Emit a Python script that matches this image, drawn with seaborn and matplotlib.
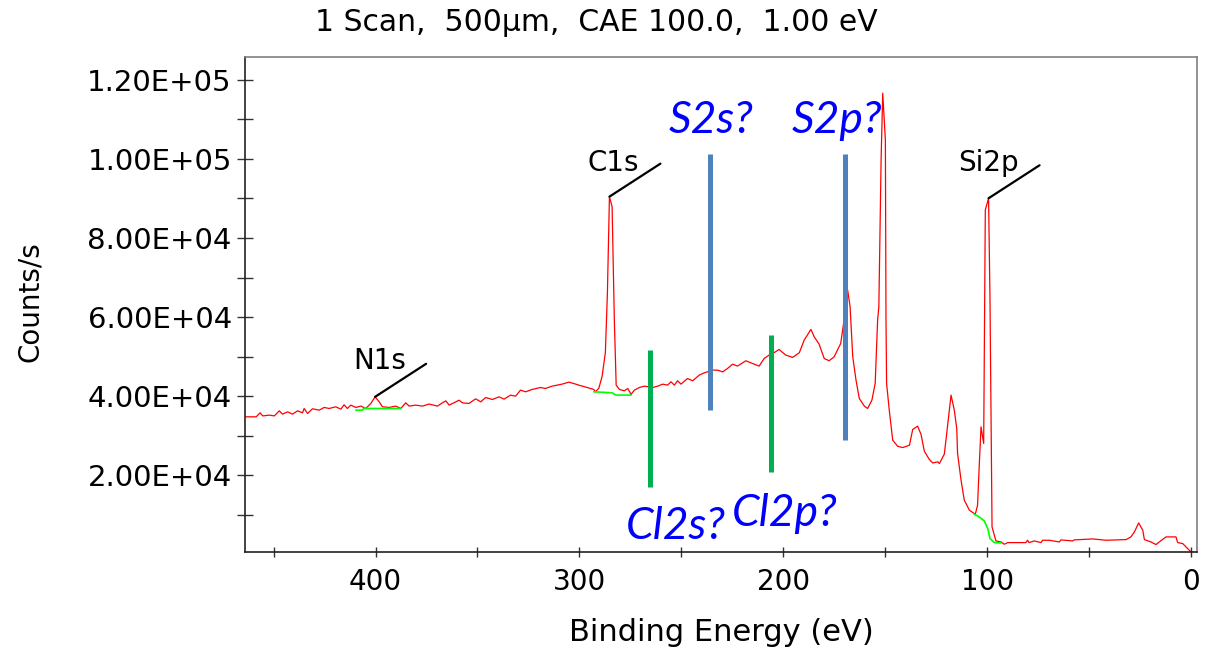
import matplotlib
matplotlib.use("Agg")
import matplotlib.pyplot as plt
from matplotlib.ticker import MultipleLocator, FuncFormatter
import pandas as pd
import seaborn as sns

# XPS survey spectrum: binding energy (eV) and intensity (counts/s)
energy = [
    464.2, 458.5, 456.6, 455.3, 452.0, 449.6, 447.2, 445.6, 443.1, 440.7,
    438.2, 435.8, 435.0, 433.3, 430.9, 427.6, 425.2, 422.7, 419.5, 417.0,
    415.4, 413.8, 412.1, 409.7, 407.2, 404.8, 402.3, 400.2, 398.2, 396.6,
    393.3, 390.1, 387.6, 385.2, 383.5, 380.3, 377.0, 373.7, 369.6, 367.2,
    365.5, 363.9, 359.0, 357.4, 354.2, 350.9, 348.4, 346.0, 342.7, 339.4,
    337.0, 333.8, 331.3, 328.9, 326.4, 323.2, 319.1, 316.7, 313.4, 308.5,
    305.2, 302.8, 300.3, 296.2, 293.0, 292.2, 290.5, 288.9, 287.3, 286.3,
    285.3, 284.0, 282.9, 282.0, 280.4, 278.0, 276.3, 274.7, 273.1, 270.6,
    268.2, 264.1, 261.6, 259.2, 256.8, 255.1, 253.5, 251.9, 250.2, 247.0,
    244.5, 241.3, 238.8, 234.7, 232.3, 229.8, 227.4, 224.9, 222.5, 218.4,
    215.2, 211.9, 209.4, 207.0, 204.6, 202.1, 200.8, 198.8, 195.5, 192.2,
    189.8, 186.5, 184.9, 182.5, 180.0, 177.6, 175.1, 171.9, 170.6, 168.5,
    167.3, 166.0, 164.4, 162.8, 160.3, 158.7, 156.6, 155.0, 153.8, 153.2,
    152.1, 151.3, 150.0, 149.7, 149.4, 148.1, 146.4, 144.0, 141.5, 138.2,
    136.6, 134.2, 132.5, 130.9, 128.4, 126.8, 124.3, 123.5, 121.1, 120.3,
    117.8, 116.2, 115.0, 114.6, 112.9, 111.3, 108.8, 105.9, 104.8, 104.0,
    103.1, 101.8, 101.0, 99.4, 98.7, 97.7, 95.8, 93.3, 91.7, 90.0,
    81.1, 80.3, 79.5, 77.0, 73.7, 72.9, 69.6, 64.7, 63.9, 58.2,
    57.4, 48.4, 41.8, 32.0, 29.6, 27.9, 25.8, 23.8, 23.0, 19.8,
    17.3, 15.7, 12.4, 7.5, 6.7, 4.2, 1.8, 0.1, -2.3,
]
counts = [
    34770, 34770, 35780, 35000, 35200, 35000, 36290, 35450, 36030, 35450,
    36290, 35780, 36880, 35620, 36800, 36460, 37140, 36880, 37310, 36710,
    37810, 36880, 37730, 37140, 37480, 36880, 38140, 39830, 38560, 37310,
    37140, 37480, 36880, 38310, 37480, 37730, 37480, 38000, 37480, 38310,
    38810, 37730, 38980, 38310, 38140, 39320, 38560, 39650, 39150, 39830,
    39240, 40250, 40000, 41520, 41100, 41690, 42190, 41940, 42530, 43040,
    43540, 43200, 42780, 42190, 41690, 41100, 42000, 45000, 51000, 66000,
    90470, 87940, 59250, 42790, 41690, 41350, 41940, 40440, 41520, 42190,
    42530, 42190, 42530, 43040, 42780, 43630, 42780, 43880, 43040, 44470,
    43880, 45310, 45900, 46580, 46580, 46150, 47000, 48100, 47600, 48950,
    48270, 47600, 49540, 50390, 50980, 51820, 51230, 50390, 49800, 50980,
    54180, 56880, 55020, 53160, 49540, 48950, 49960, 53330, 58000, 66840,
    62620, 49960, 44060, 39420, 37480, 36880, 38980, 43200, 59250, 62620,
    99760, 116650, 104800, 59250, 43200, 36460, 28860, 27330, 26990, 27580,
    31570, 32410, 30300, 26060, 23950, 23110, 23370, 22960, 25330, 28860,
    40260, 36460, 31820, 25500, 18740, 13670, 11140, 10130, 12400, 22110,
    32240, 28030, 87100, 90060, 64300, 6920, 3380, 3110, 2530, 2950,
    2950, 3540, 2950, 3370, 2950, 3540, 3540, 3110, 3630, 3370,
    3630, 3880, 3540, 3710, 4390, 5650, 7930, 6080, 3710, 3110,
    2450, 3110, 4390, 4390, 2950, 2700, 1430, 590, 420,
]

# Fitted backgrounds under the identified peaks
bg_n1s_energy = [409.7, 406.5, 405.8, 387.6]
bg_n1s_counts = [36460, 36460, 36880, 36880]
bg_c1s_energy = [293.0, 284.0, 283.6, 282.0, 274.7]
bg_c1s_counts = [41100, 40850, 40680, 40270, 40270]
bg_si2p_energy = [106.4, 104.0, 101.5, 99.8, 98.7, 96.6, 93.3]
bg_si2p_counts = [10130, 9450, 8440, 6500, 3970, 2950, 2870]

# Identified peaks
peak_names = ["N1s", "C1s", "Si2p"]
peak_energy = [400.2, 285.3, 99.4]
peak_counts = [39830, 90470, 90060]

# Candidate lines (S and Cl)
marker_names = ["S2s?", "S2p?", "Cl2s?", "Cl2p?"]
marker_energy = [236.2, 169.6, 265.3, 206.2]
marker_low = [36460, 28860, 17040, 20840]
marker_high = [101200, 101200, 51650, 55450]
marker_colors = ["#4F81BD", "#4F81BD", "#00B050", "#00B050"]

x_ticks = [400, 300, 200, 100, 0]
title = "1 Scan,  500\u00b5m,  CAE 100.0,  1.00 eV"

sns.set_style("ticks")
plt.rcParams["font.family"] = ["DejaVu Sans"]
plt.rcParams.update({
    "text.color": "black",
    "axes.labelcolor": "black",
    "xtick.color": "black",
    "ytick.color": "black",
})

fig = plt.figure(figsize=(12.14, 6.55), dpi=100)
ax = fig.add_axes([0.2018, 0.1573, 0.7842, 0.7557])

spec = pd.DataFrame({"energy": energy, "counts": counts})
sns.lineplot(data=spec, x="energy", y="counts", sort=False, estimator=None,
             color="#FF0000", lw=0.9, ax=ax)

for be, ct in [(bg_n1s_energy, bg_n1s_counts),
               (bg_c1s_energy, bg_c1s_counts),
               (bg_si2p_energy, bg_si2p_counts)]:
    bg = pd.DataFrame({"energy": be, "counts": ct})
    sns.lineplot(data=bg, x="energy", y="counts", sort=False, estimator=None,
                 color="#00FF00", lw=1.2, ax=ax)

ax.vlines(marker_energy, marker_low, marker_high, colors=marker_colors, lw=3.6)

# Candidate labels: S lines above the bar, Cl lines below
label_offsets = [(2, 21), (-8, 21), (26, -52), (14, -54)]
for name, e, lo, hi, off in zip(marker_names, marker_energy, marker_low,
                                marker_high, label_offsets):
    y = hi if off[1] > 0 else lo
    ax.annotate(name, xy=(e, y), xytext=off, textcoords="offset pixels",
                ha="center", va="baseline", color="#0000FF",
                family=["Lato", "DejaVu Sans"], style="italic", fontsize=32)

# Peak labels with leader lines
text_offsets = [(-22, 28), (-22, 26), (-30, 27)]
for name, e, c, off in zip(peak_names, peak_energy, peak_counts, text_offsets):
    ax.annotate("", xy=(e, c), xytext=(51, 33), textcoords="offset pixels",
                arrowprops=dict(arrowstyle="-", lw=1.6, color="black",
                                shrinkA=0, shrinkB=0))
    ax.annotate(name, xy=(e, c), xytext=off, textcoords="offset pixels",
                ha="left", va="baseline", fontsize=20, color="black")

ax.set_xlim(464, -2.8)
ax.set_ylim(580, 125800)

ax.set_xticks(x_ticks)
ax.xaxis.set_minor_locator(MultipleLocator(50))
ax.yaxis.set_major_locator(MultipleLocator(20000))
ax.yaxis.set_minor_locator(MultipleLocator(10000))
ax.yaxis.set_major_formatter(FuncFormatter(lambda v, p: f"{v:.2E}"))

ax.tick_params(axis="y", which="both", direction="inout", length=11,
               width=1.0, color="#333333", labelsize=21, pad=4,
               left=True, right=False)
ax.tick_params(axis="x", which="both", direction="inout", length=7,
               width=1.0, color="#333333", labelsize=20, pad=8,
               bottom=True, top=False)

for side in ["left", "bottom"]:
    ax.spines[side].set_color("#222222")
    ax.spines[side].set_linewidth(1.2)
for side in ["top", "right"]:
    ax.spines[side].set_visible(True)
    ax.spines[side].set_color("#808080")
    ax.spines[side].set_linewidth(1.2)

ax.set_xlabel("Binding Energy (eV)", fontsize=22, labelpad=16)
ax.set_ylabel("Counts/s", fontsize=20)
ax.yaxis.set_label_coords(-0.211, 0.505)

fig.text(0.4914, 0.966, title, ha="center", va="center", fontsize=21.5)

fig.savefig("out.png", dpi=100)
